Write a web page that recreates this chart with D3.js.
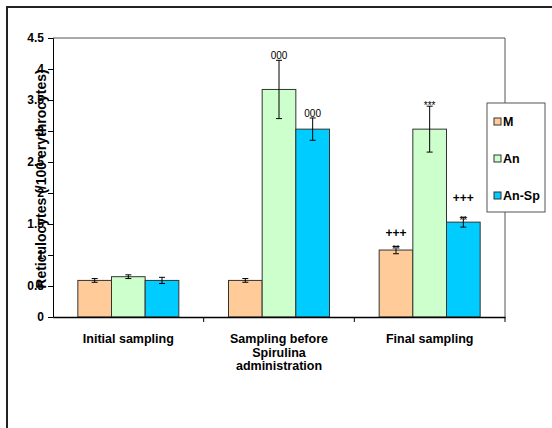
<!DOCTYPE html>
<html>
<head>
<meta charset="utf-8">
<script src="https://cdn.jsdelivr.net/npm/d3@7"></script>
<style>
body { margin: 0; background: #fff; }
text { font-family: Arial, "Liberation Sans", sans-serif; font-weight: bold; }
</style>
</head>
<body>
<script>
const categories = [['Initial sampling'], ['Sampling before', 'Spirulina', 'administration'], ['Final sampling']];
const seriesNames = ['M', 'An', 'An-Sp'];
const seriesColors = ['#FFCC99', '#CCFFCC', '#00CCFF'];
const values = [
    [0.59, 0.59, 1.08],
    [0.65, 3.67, 3.03],
    [0.59, 3.03, 1.53]
];
const errors = [
    [0.03, 0.03, 0.06],
    [0.03, 0.47, 0.37],
    [0.05, 0.18, 0.08]
];
// annotations: [series, category, text, offset above error top]
const marks = [
    [1, 1, '000', 0], [2, 1, '000', 0],
    [1, 2, '***', -4],
    [0, 2, '**', -8], [0, 2, '+++', 8],
    [2, 2, '**', -8], [2, 2, '+++', 14]
];
const yTicks = [0, 0.5, 1, 1.5, 2, 2.5, 3, 3.5, 4, 4.5];

function plot()
{
    const W = 552, H = 428;
    const left = 53, right = 505, top = 38, bottom = 317;
    const svg = d3.select('body').append('svg')
        .attr('width', W).attr('height', H);

    // outer frame (runs off right and bottom)
    svg.append('path')
        .attr('d', `M7,${H + 5} V7 H${W + 5}`)
        .attr('fill', 'none').attr('stroke', '#222').attr('stroke-width', 2);

    const x0 = d3.scaleBand().domain(d3.range(categories.length)).range([left, right]);
    const x1 = d3.scaleBand().domain(d3.range(seriesNames.length))
        .range([0, 101]).paddingInner(0);
    const y = d3.scaleLinear().domain([0, 4.5]).range([bottom, top]);

    // plot frame top and right
    svg.append('path')
        .attr('d', `M${left},${top} H${right} V${bottom}`)
        .attr('fill', 'none').attr('stroke', '#555').attr('stroke-width', 1);

    const off = (x0.bandwidth() - 101) / 2;
    seriesNames.forEach((s, si) => {
        const g = svg.append('g');
        g.selectAll('rect').data(values[si]).enter().append('rect')
            .attr('x', (d, ci) => x0(ci) + off + x1(si))
            .attr('y', d => y(d))
            .attr('width', x1.bandwidth())
            .attr('height', d => bottom - y(d))
            .attr('fill', seriesColors[si])
            .attr('stroke', '#333').attr('stroke-width', 1);
        values[si].forEach((v, ci) => {
            const cx = x0(ci) + off + x1(si) + x1.bandwidth() / 2;
            const e = errors[si][ci];
            g.append('path')
                .attr('d', `M${cx},${y(v + e)} V${y(v - e)} M${cx - 3},${y(v + e)} H${cx + 3} M${cx - 3},${y(v - e)} H${cx + 3}`)
                .attr('stroke', '#000').attr('stroke-width', 1).attr('fill', 'none');
        });
    });

    marks.forEach(([si, ci, t, dy]) => {
        const cx = x0(ci) + off + x1(si) + x1.bandwidth() / 2;
        const yTop = y(values[si][ci] + errors[si][ci]);
        svg.append('text')
            .attr('x', cx).attr('y', yTop - 1 - dy)
            .attr('text-anchor', 'middle')
            .attr('font-size', t === '+++' ? 12 : 10)
            .style('font-weight', t === '+++' ? 'bold' : 'normal')
            .text(t);
    });

    // y axis
    const yAxis = svg.append('g').attr('transform', `translate(${left},0)`)
        .call(d3.axisLeft(y).tickValues(yTicks).tickSize(5).tickFormat(d3.format('')));
    yAxis.select('.domain').attr('stroke', '#000');
    yAxis.selectAll('line').attr('stroke', '#000');
    yAxis.selectAll('text').attr('font-size', 12).attr('fill', '#000')
        .attr('font-family', 'Arial, "Liberation Sans", sans-serif').attr('dx', -1);

    // x axis
    const xAxis = svg.append('g').attr('transform', `translate(0,${bottom})`)
        .call(d3.axisBottom(x0).tickSize(0).tickFormat(''));
    xAxis.select('.domain').attr('stroke', '#000').attr('stroke-width', 1.3);
    xAxis.selectAll('.sep').data(d3.range(categories.length)).enter().append('line')
        .attr('x1', d => x0(d) + x0.bandwidth()).attr('x2', d => x0(d) + x0.bandwidth())
        .attr('y1', 0).attr('y2', 5).attr('stroke', '#000');
    categories.forEach((lines, ci) => {
        const t = svg.append('text')
            .attr('x', x0(ci) + x0.bandwidth() / 2).attr('y', 343)
            .attr('text-anchor', 'middle').attr('font-size', 12.5);
        lines.forEach((l, i) => t.append('tspan')
            .attr('x', x0(ci) + x0.bandwidth() / 2).attr('dy', i ? 13.5 : 0).text(l));
    });

    svg.append('text')
        .attr('transform', 'translate(46,179) rotate(-90)')
        .attr('text-anchor', 'middle').attr('font-size', 14)
        .text('Reticulocytes (/100 erythrocytes)');

    // legend
    const lg = svg.append('g').attr('transform', 'translate(487,103)');
    lg.append('rect').attr('width', 58).attr('height', 109)
        .attr('fill', '#fff').attr('stroke', '#555');
    seriesNames.forEach((s, i) => {
        lg.append('rect').attr('x', 7).attr('y', 15 + i * 37)
            .attr('width', 7).attr('height', 7)
            .attr('fill', seriesColors[i]).attr('stroke', '#333');
        lg.append('text').attr('x', 16).attr('y', 23 + i * 37)
            .attr('font-size', 12.5).text(s);
    });
}

plot();
</script>
</body>
</html>
